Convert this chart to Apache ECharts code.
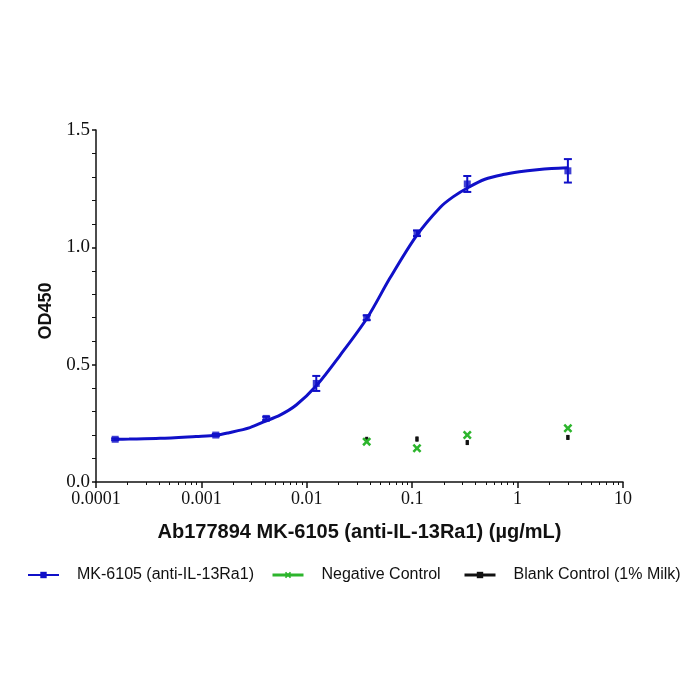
<!DOCTYPE html>
<html><head><meta charset="utf-8">
<script src="https://cdn.jsdelivr.net/npm/echarts@6/dist/echarts.min.js"></script>
<style>html,body{margin:0;padding:0;background:#fff}#c{width:700px;height:700px}</style>
</head><body><div id="c"></div>
<script>
// ---- data ----
const mkConc = [0.000152, 0.00137, 0.00412, 0.0123, 0.037, 0.111, 0.333, 3];
const mkOD   = [0.182, 0.200, 0.271, 0.420, 0.700, 1.060, 1.270, 1.326];
const mkErr  = [0.004, 0.005, 0.007, 0.032, 0.010, 0.012, 0.034, 0.050];

// fitted curve, points
const curveConc = [0.000148, 0.000206, 0.000405, 0.00089, 0.00138, 0.00183, 0.00289, 0.00384, 0.00557, 0.00794, 0.0123, 0.0207, 0.0375, 0.0617, 0.110, 0.184, 0.244, 0.340, 0.49, 0.726, 1.04, 1.53, 2.1, 3.03];
const curveOD   = [0.182, 0.183, 0.186, 0.194, 0.199, 0.210, 0.232, 0.255, 0.285, 0.328, 0.410, 0.540, 0.700, 0.870, 1.050, 1.170, 1.215, 1.255, 1.290, 1.310, 1.322, 1.331, 1.336, 1.339];

const ctrlConc = [0.037, 0.111, 0.333, 3];
const negOD    = [0.172, 0.144, 0.200, 0.229];
const blankOD  = [0.182, 0.183, 0.168, 0.190];
const blankErr = [0.006, 0.010, 0.010, 0.010];

const xMajorTicks = [0.0001, 0.001, 0.01, 0.1, 1, 10];
const xTickLabels = ['0.0001', '0.001', '0.01', '0.1', '1', '10'];
const yTickLabels = ['0.0', '0.5', '1.0', '1.5'];

const names = ['MK-6105 (anti-IL-13Ra1)', 'Negative Control', 'Blank Control (1% Milk)'];
const BLUE = '#1010C8', GREEN = '#2DB52D', BLACK = '#111111';

const xMinorTicks = [];
for (let d = -4; d < 1; d++) for (let k = 2; k <= 9; k++) xMinorTicks.push(+(k * Math.pow(10, d)).toPrecision(3));

function errBars(conc, val, err, color, cap, lw) {
  return {
    type: 'custom', xAxisIndex: 0, yAxisIndex: 0, silent: true, z: 4,
    data: conc.map((c, i) => [c, val[i], err[i]]),
    renderItem: function (params, api) {
      const x = api.value(0), y = api.value(1), e = api.value(2);
      const top = api.coord([x, y + e]), bot = api.coord([x, y - e]);
      const children = [{ type: 'line', shape: { x1: top[0], y1: top[1], x2: bot[0], y2: bot[1] }, style: { stroke: color, lineWidth: lw } }];
      if (cap > 0) {
        children.push({ type: 'line', shape: { x1: top[0] - cap, y1: top[1], x2: top[0] + cap, y2: top[1] }, style: { stroke: color, lineWidth: 2 } });
        children.push({ type: 'line', shape: { x1: bot[0] - cap, y1: bot[1], x2: bot[0] + cap, y2: bot[1] }, style: { stroke: color, lineWidth: 2 } });
      }
      return { type: 'group', children: children };
    }
  };
}

const xSym = 'path://M0,2 L2,0 L5,3 L8,0 L10,2 L7,5 L10,8 L8,10 L5,7 L2,10 L0,8 L3,5 Z';
const legendText = { fontFamily: 'Liberation Sans, Arial, sans-serif', fontSize: 16, color: '#111', padding: [0, 0, 0, 13] };
const legendBase = { top: 562, itemWidth: 31, itemHeight: 8, textStyle: legendText };

const chart = echarts.init(document.getElementById('c'), null, { renderer: 'canvas' });
chart.setOption({
  backgroundColor: '#fff',
  animation: false,
  grid: { left: 96, right: 77, top: 130, bottom: 218, containLabel: false },
  legend: [
    Object.assign({ data: [{ name: names[0] }], left: 22 }, legendBase),
    Object.assign({ data: [{ name: names[1], lineStyle: { width: 3, color: GREEN, opacity: 1 } }], left: 266 }, legendBase),
    Object.assign({ data: [{ name: names[2], lineStyle: { width: 3, color: BLACK, opacity: 1 } }], left: 458 }, legendBase)
  ],
  xAxis: [
    {
      type: 'log', logBase: 10, min: 0.0001, max: 10,
      name: 'Ab177894 MK-6105 (anti-IL-13Ra1) (µg/mL)', nameLocation: 'middle', nameGap: 40,
      nameTextStyle: { fontFamily: 'Liberation Sans, Arial, sans-serif', fontWeight: 'bold', fontSize: 20, color: '#111' },
      axisLine: { lineStyle: { color: '#111', width: 1.5 } },
      axisTick: { show: true, length: 6, lineStyle: { color: '#111', width: 1.5 }, customValues: xMajorTicks },
      axisLabel: { customValues: xMajorTicks, fontFamily: 'Liberation Serif, Times New Roman, serif', fontSize: 18, color: '#111', margin: 8,
        formatter: function (v) { const i = xMajorTicks.findIndex(t => Math.abs(Math.log10(t) - Math.log10(v)) < 1e-6); return i >= 0 ? xTickLabels[i] : ''; } },
      splitLine: { show: false }
    },
    {
      type: 'log', logBase: 10, min: 0.0001, max: 10, position: 'bottom',
      axisLine: { show: false },
      axisTick: { show: true, length: 3, lineStyle: { color: '#111', width: 1 }, customValues: xMinorTicks },
      axisLabel: { show: false },
      splitLine: { show: false }
    }
  ],
  yAxis: {
    type: 'value', min: 0, max: 1.5, interval: 0.5,
    name: 'OD450', nameLocation: 'middle', nameGap: 41, nameRotate: 90,
    nameTextStyle: { fontFamily: 'Liberation Sans, Arial, sans-serif', fontWeight: 'bold', fontSize: 18, color: '#111', padding: [0, 10, 0, 0] },
    axisLine: { show: true, lineStyle: { color: '#111', width: 1.5 } },
    axisTick: { show: true, length: 4, lineStyle: { color: '#111', width: 1.5 } },
    minorTick: { show: true, splitNumber: 5, length: 4, lineStyle: { color: '#111', width: 1 } },
    axisLabel: { fontFamily: 'Liberation Serif, Times New Roman, serif', fontSize: 19, color: '#111', margin: 6,
      formatter: function (v) { return yTickLabels[Math.round(v / 0.5)]; } },
    splitLine: { show: false }
  },
  series: [
    {
      name: names[0], type: 'line', xAxisIndex: 0, smooth: 0.3,
      data: curveConc.map((c, i) => [c, curveOD[i]]),
      symbol: 'rect', symbolSize: 6, showSymbol: false,
      lineStyle: { color: BLUE, width: 3 }, itemStyle: { color: BLUE }, z: 3
    },
    {
      name: names[0], type: 'scatter', xAxisIndex: 0,
      data: mkConc.map((c, i) => [c, mkOD[i]]),
      symbol: 'rect', symbolSize: 7, itemStyle: { color: BLUE }, z: 5
    },
    errBars(mkConc, mkOD, mkErr, BLUE, 4, 2),
    {
      name: names[2], type: 'line', xAxisIndex: 0,
      data: ctrlConc.map((c, i) => [c, blankOD[i]]),
      symbol: 'rect', symbolSize: [3, 5], showSymbol: true,
      lineStyle: { width: 0, opacity: 0, color: BLACK }, itemStyle: { color: BLACK }, z: 5
    },
    errBars(ctrlConc, blankOD, blankErr, BLACK, 0, 3),
    {
      name: names[1], type: 'line', xAxisIndex: 0,
      data: ctrlConc.map((c, i) => [c, negOD[i]]),
      symbol: xSym, symbolSize: 9, showSymbol: true,
      lineStyle: { width: 0, opacity: 0, color: GREEN }, itemStyle: { color: GREEN }, z: 6
    }
  ]
});
</script>
</body></html>
